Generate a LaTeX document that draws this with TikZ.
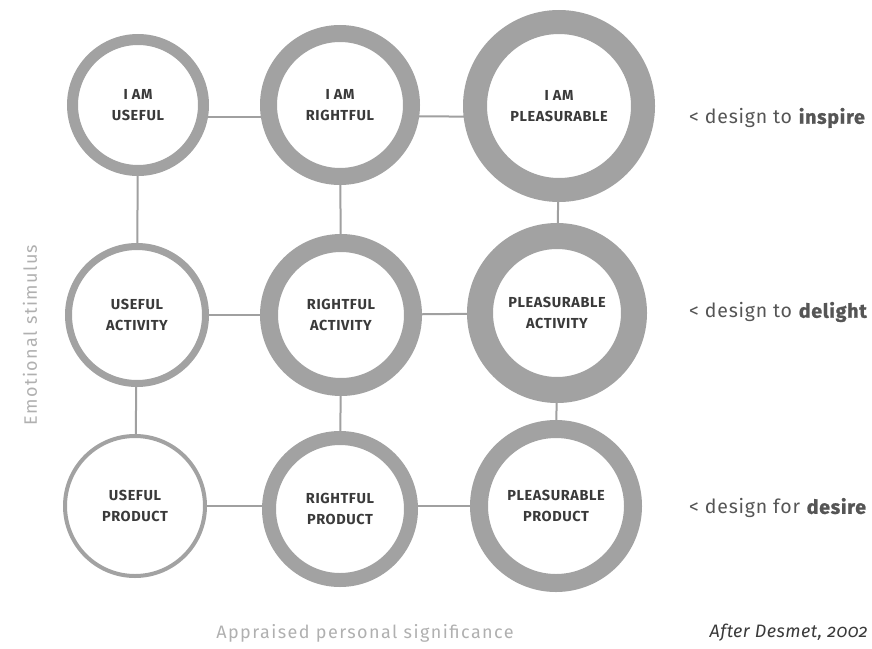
\documentclass[tikz,border=0pt]{standalone}
\usepackage{fontspec}
\setmainfont{Fira Sans}
\newfontfamily\circfont{Fira Sans}[LetterSpace=4]
\newfontfamily\rfont{Fira Sans}[LetterSpace=4, BoldFeatures={FakeBold=1.2}]
\newfontfamily\axisfont{Fira Sans}[LetterSpace=8]
\newfontfamily\notefont{Fira Sans}[Numbers=OldStyle, LetterSpace=2.5]
\usetikzlibrary{backgrounds}
\definecolor{ringgray}{HTML}{A2A2A2}
\definecolor{linkgray}{HTML}{A0A0A0}
\definecolor{txtdark}{HTML}{3A3A3A}
\definecolor{txtmid}{HTML}{555555}
\definecolor{axisgray}{HTML}{B0B0B0}
\begin{document}
\begin{tikzpicture}[x=1pt,y=-1pt,
  ring/.style 2 args={circle, draw=ringgray, fill=white, line width=#2pt,
    minimum size=#1pt, inner sep=0pt, align=center, text=txtdark,
    font=\circfont\bfseries\fontsize{14.5}{21}\selectfont},
  link/.style={draw=linkgray, line width=2pt},
  rlabel/.style={anchor=west, text=txtmid, inner sep=0pt,
    font=\rfont\fontsize{19.5}{22}\selectfont},
  axislabel/.style={text=axisgray, inner sep=0pt,
    font=\axisfont\fontsize{18}{20}\selectfont}]
\useasboundingbox (0,0) rectangle (872,648);
% circles: minimum size = 2*r_outer - ring width
\node[ring={131}{11}] (ui) at (138,105) {I AM\\USEFUL};
\node[ring={143}{17}] (ri) at (340,105) {I AM\\RIGHTFUL};
\node[ring={168}{24}] (pi) at (559,106) {I AM\\PLEASURABLE};
\node[ring={137}{7}]  (ua) at (137,315) {USEFUL\\ACTIVITY};
\node[ring={144}{18}] (ra) at (341,315) {RIGHTFUL\\ACTIVITY};
\node[ring={154}{26}] (pa) at (557,313) {PLEASURABLE\\ACTIVITY};
\node[ring={140}{4}]  (up) at (135,506) {USEFUL\\PRODUCT};
\node[ring={142}{14}] (rp) at (340,509) {RIGHTFUL\\PRODUCT};
\node[ring={154}{18}] (pp) at (556,506) {PLEASURABLE\\PRODUCT};
\begin{scope}[on background layer]
  \draw[link] ([yshift=-12pt]ui.center) -- ([yshift=-12pt]ri.center);
  \draw[link] ([yshift=-11pt]ri.center) -- ([yshift=-11pt]pi.center);
  \draw[link] (ua) -- (ra);
  \draw[link] (ra) -- (pa);
  \draw[link] (up) -- ([yshift=3pt]rp.center);
  \draw[link] ([yshift=3pt]rp.center) -- (pp);
  \draw[link] (ui) -- (ua);
  \draw[link] (ua) -- (up);
  \draw[link] (ri) -- (ra);
  \draw[link] (ra) -- (rp);
  \draw[link] (pi) -- (pa);
  \draw[link] (pa) -- (pp);
\end{scope}
\node[rlabel] (l1) at (689,118) {< design to \textbf{inspire}};
\node[rlabel] (l2) at (689,312) {< design to \textbf{delight}};
\node[rlabel] (l3) at (689,508) {< design for \textbf{desire}};
\node[axislabel, rotate=90] (ylab) at (30,335) {Emotional stimulus};
\node[axislabel] (xlab) at (365,633) {Appraised personal significance};
\node[anchor=east, inner sep=0pt, text=txtdark,
  font=\notefont\itshape\fontsize{18}{20}\selectfont] (src) at (868,633) {After Desmet, 2002};
\end{tikzpicture}
\end{document}
